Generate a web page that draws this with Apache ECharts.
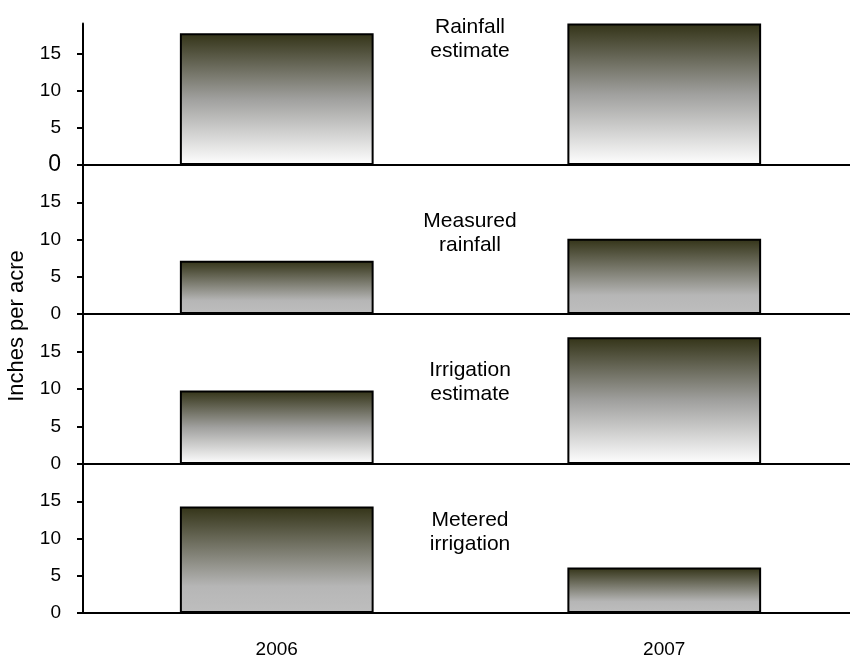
<!DOCTYPE html>
<html>
<head>
<meta charset="utf-8">
<script src="https://cdn.jsdelivr.net/npm/echarts@6/dist/echarts.min.js"></script>
<style>html,body{margin:0;padding:0;background:#fff;}#c{width:850px;height:658px;}</style>
</head>
<body>
<div id="c"></div>
<script>
const years = ['2006', '2007'];
const rainfallEstimate = [17.7, 19.0];
const measuredRainfall = [7.15, 10.1];
const irrigationEstimate = [9.8, 16.9];
const meteredIrrigation = [14.3, 6.1];
const panelTitles = ['Rainfall\nestimate', 'Measured\nrainfall', 'Irrigation\nestimate', 'Metered\nirrigation'];
const tickValues = [0, 5, 10, 15];
const axisName = 'Inches per acre';

const FONT = 'Liberation Sans, Arial, sans-serif';
const panels = [
  {data: rainfallEstimate, max: 19, top: 23.5, height: 141.5, estimate: true, titleTop: 10},
  {data: measuredRainfall, max: 20, top: 165, height: 149, estimate: false, titleTop: 204},
  {data: irrigationEstimate, max: 20, top: 314, height: 150, estimate: true, titleTop: 353},
  {data: meteredIrrigation, max: 20, top: 464, height: 149, estimate: false, titleTop: 503}
];

function grad(estimate) {
  const stops = estimate
    ? [{offset: 0, color: '#333317'}, {offset: 0.5, color: '#a0a09e'}, {offset: 1, color: '#ffffff'}]
    : [{offset: 0, color: '#333317'}, {offset: 0.75, color: '#b6b6b6'}, {offset: 1, color: '#bebebe'}];
  return new echarts.graphic.LinearGradient(0, 0, 0, 1, stops);
}

const grid = [], xAxis = [], yAxis = [], series = [], title = [];
panels.forEach((p, i) => {
  grid.push({left: 83, width: 775, top: p.top, height: p.height, outerBoundsMode: 'none', containLabel: false});
  xAxis.push({
    type: 'category', gridIndex: i, data: years,
    axisLine: {show: true, lineStyle: {color: '#000', width: 2}},
    axisTick: {show: false},
    axisLabel: {show: i === 3, color: '#000', fontFamily: FONT, fontSize: 19, margin: 27}
  });
  yAxis.push({
    type: 'value', gridIndex: i, min: 0, max: p.max, interval: 5,
    splitLine: {show: false},
    axisLine: {show: true, lineStyle: {color: '#000', width: 2}},
    axisTick: {show: true, length: 6, customValues: tickValues, lineStyle: {color: '#000', width: 2}},
    axisLabel: {
      customValues: tickValues, color: '#000', fontFamily: FONT, fontSize: 19, margin: 22,
      formatter: v => (i === 0 && v === 0) ? '{big|0}' : String(v),
      rich: {big: {fontSize: 23, fontFamily: FONT, color: '#000'}}
    }
  });
  series.push({
    type: 'bar', xAxisIndex: i, yAxisIndex: i, data: p.data, barWidth: '50%',
    itemStyle: {color: grad(p.estimate), borderColor: '#000', borderWidth: 2},
    silent: true, animation: false
  });
  title.push({
    text: panelTitles[i], left: 465, top: p.titleTop, textAlign: 'center',
    textStyle: {fontFamily: FONT, fontSize: 21, fontWeight: 'normal', color: '#000', lineHeight: 24}
  });
});

const chart = echarts.init(document.getElementById('c'), null, {renderer: 'canvas'});
chart.setOption({
  animation: false,
  backgroundColor: '#fff',
  title, grid, xAxis, yAxis, series,
  graphic: [{
    type: 'text', x: 17, y: 326, rotation: Math.PI / 2,
    style: {text: axisName, fontFamily: FONT, fontSize: 22, fill: '#000', align: 'center', verticalAlign: 'middle'}
  }]
});
</script>
</body>
</html>
